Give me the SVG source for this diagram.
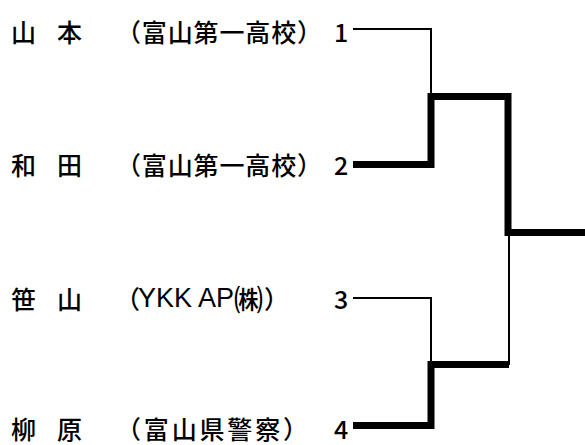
<svg xmlns="http://www.w3.org/2000/svg" width="585" height="445" viewBox="0 0 585 445">
<style>
text{font-family:"Noto Sans CJK JP","Noto Sans CJK SC",sans-serif;font-size:25px;font-weight:500;fill:#000;dominant-baseline:central}
.lat{font-family:"Liberation Sans",Arial,sans-serif;font-size:27px;font-weight:400}
.kabu{font-size:29px}
.thin{stroke:#000;stroke-width:2;fill:none}
.thick{stroke:#000;stroke-width:7;fill:none}
</style>
<rect width="585" height="445" fill="#fff"/>
<g id="p1"><text x="11" y="31">山</text><text x="57" y="31">本</text><text x="116" y="31" textLength="206" lengthAdjust="spacing">（富山第一高校）</text><text x="334" y="31">1</text></g>
<g id="p2"><text x="11" y="164">和</text><text x="57" y="164">田</text><text x="116" y="164" textLength="206" lengthAdjust="spacing">（富山第一高校）</text><text x="334" y="164">2</text></g>
<g id="p3"><text x="11" y="298">笹</text><text x="57" y="298">山</text><text x="115" y="298">（<tspan class="lat" dx="-2">YKK AP</tspan><tspan class="kabu" dx="0">㈱</tspan><tspan dx="1">）</tspan></text><text x="334" y="298">3</text></g>
<g id="p4"><text x="11" y="428">柳</text><text x="57" y="428">原</text><text x="116" y="428" textLength="192" lengthAdjust="spacing">（富山県警察）</text><text x="334" y="428">4</text></g>
<g id="connectors">
<polyline class="thin" points="353,29 431,29 431,96"/>
<polyline class="thin" points="353,298 431,298 431,365"/>
<polyline class="thin" points="509,232 509,365"/>
<polyline class="thick" points="353,164.5 431,164.5 431,96.5 508,96.5 508,232.5 585,232.5"/>
<polyline class="thick" points="353,425.5 431,425.5 431,364.5 509,364.5"/>
</g>
</svg>
